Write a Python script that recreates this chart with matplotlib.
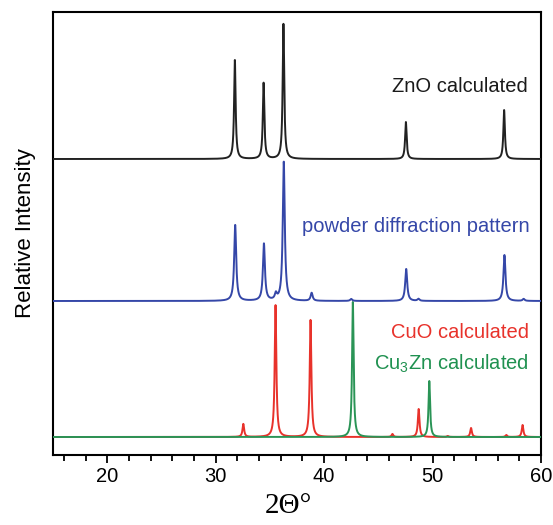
import numpy as np
import matplotlib
matplotlib.use("Agg")
import matplotlib.pyplot as plt
from matplotlib.ticker import MultipleLocator

plt.rcParams["mathtext.fontset"] = "custom"
plt.rcParams["mathtext.rm"] = "Liberation Sans"
plt.rcParams["mathtext.it"] = "Liberation Sans"
plt.rcParams["mathtext.default"] = "rm"

# ---- data: peak positions (2theta, deg) and heights (arb. units) ----
zno_pos = [31.77, 34.42, 36.25, 47.54, 56.60]
zno_hgt = [99, 76, 135, 37, 49]

powder_pos = [31.80, 34.45, 35.55, 36.28, 38.85, 42.50, 47.57, 48.70, 56.63, 58.40]
powder_hgt = [76, 57, 6, 139, 8, 2, 32, 2, 46, 2]

cuo_pos = [32.55, 35.52, 38.75, 46.30, 48.72, 51.40, 53.55, 56.80, 58.30]
cuo_hgt = [13, 132, 117, 3, 28, 1, 9, 2, 12]

cu3zn_pos = [42.65, 49.70]
cu3zn_hgt = [135, 56]

labels = ["ZnO calculated", "powder diffraction pattern", "CuO calculated", r"Cu$_{3}$Zn calculated"]
xticks = [20, 30, 40, 50, 60]

# ---- layout constants ----
offsets = {"zno": 296, "powder": 154, "bottom": 18}


def profile(x, pos, hgt, w):
    y = np.zeros_like(x)
    for p, h in zip(pos, hgt):
        y += h * w**2 / ((x - p) ** 2 + w**2)
    return y


x = np.linspace(15, 60, 6000)

fig = plt.figure(figsize=(5.53, 5.25), dpi=100)
ax = fig.add_axes([53 / 553, 70 / 525, 488 / 553, 443 / 525])

ax.plot(x, profile(x, cuo_pos, cuo_hgt, 0.09) + offsets["bottom"], color="#e8322b", lw=1.4, zorder=2)
ax.plot(x, profile(x, cu3zn_pos, cu3zn_hgt, 0.085) + offsets["bottom"], color="#2a9456", lw=1.4, zorder=3)
ax.plot(x, profile(x, powder_pos, powder_hgt, 0.11) + offsets["powder"], color="#3547a8", lw=1.4, zorder=3)
ax.plot(x, profile(x, zno_pos, zno_hgt, 0.085) + offsets["zno"], color="#222222", lw=1.4, zorder=3)

ax.set_xlim(15, 60)
ax.set_ylim(0, 443)

fs = 14.5


def put(xr, yp, s, c):
    ax.text((xr - 53) / 488, 1 - (yp - 12) / 443, s, transform=ax.transAxes, ha="right",
            va="center", color=c, fontsize=fs, family="Liberation Sans")


put(528, 86, labels[0], "#1a1a1a")
put(530, 227, labels[1], "#3547a8")
put(529, 333, labels[2], "#e8322b")
put(529, 364, labels[3], "#1f9150")

ax.xaxis.set_minor_locator(MultipleLocator(2))
ax.set_xticks(xticks)
ax.set_xticklabels([str(t) for t in xticks], fontsize=14.5, family="Liberation Sans")
ax.tick_params(axis="x", which="major", direction="out", length=5.5, width=1.3, pad=3)
ax.tick_params(axis="x", which="minor", direction="out", length=4.5, width=1.3)
ax.set_yticks([])
for s in ax.spines.values():
    s.set_linewidth(1.5)

ax.set_ylabel("Relative Intensity", fontsize=16, family="Liberation Sans", labelpad=12)
ax.set_xlabel("2\u0398\u00b0", fontsize=21, family="Liberation Serif", labelpad=6)
ax.xaxis.set_label_coords((288 - 53) / 488, -0.085)

fig.savefig("out.png", dpi=100)
